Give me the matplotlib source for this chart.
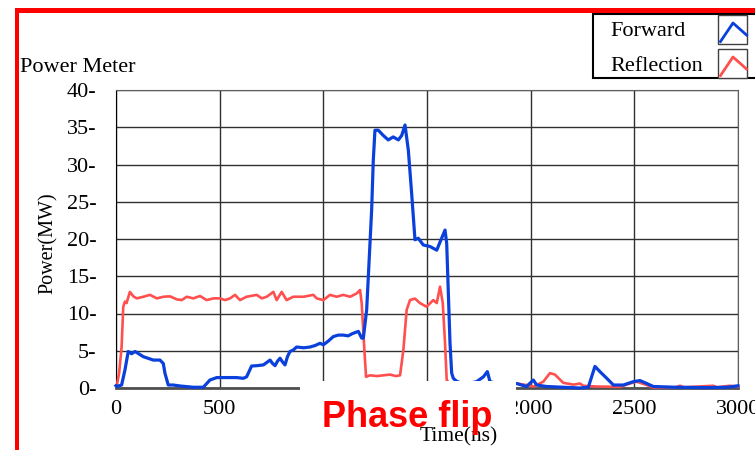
import matplotlib
matplotlib.use("Agg")
from matplotlib import pyplot as plt
from matplotlib.patches import Rectangle
from matplotlib.lines import Line2D

plt.rcParams['font.family'] = ['Liberation Serif', 'DejaVu Serif']

W, H = 755, 450

series_names = ['Forward', 'Reflection']

# forward power (ns, MW)
t_fwd = [0, 3, 27, 43, 59, 75, 92, 132, 180, 212, 228, 236, 252, 276, 309, 373,
         421, 453, 486, 530, 582, 614, 630, 654, 680, 711, 743, 755, 767, 779,
         791, 803, 815, 827, 839, 855, 871, 905, 936, 960, 984, 1000, 1024, 1048,
         1072, 1096, 1120, 1140, 1169, 1185, 1193, 1209, 1225,
         1233, 1241, 1249, 1265, 1289, 1313, 1337, 1362, 1378, 1394, 1410, 1426,
         1442, 1458, 1482, 1514, 1547, 1563, 1587, 1595, 1603, 1611, 1619, 1627,
         1643, 1680, 1739, 1772, 1791, 1804, 1850, 1932, 1980, 2013, 2029, 2077,
         2238, 2278, 2310, 2334, 2367, 2399, 2447, 2495, 2527, 2560, 2592, 2700,
         2850, 2950, 3000]
p_fwd = [0.3, 0.2, 0.4, 2.4, 4.9, 4.6, 4.9, 4.2, 3.75, 3.75, 3.3, 2.0, 0.4, 0.4,
         0.27, 0.1, 0.1, 1.07, 1.4, 1.4, 1.4, 1.3, 1.5, 2.95, 3.0, 3.1, 3.75,
         3.3, 3.0, 3.6, 4.0, 3.5, 3.1, 4.2, 4.9, 5.1, 5.5, 5.4, 5.5, 5.7, 6.0,
         5.8, 6.3, 6.9, 7.1, 7.1, 7.0, 7.3, 7.6, 6.7, 6.7, 10.5, 19.4,
         23.9, 30.6, 34.6, 34.6, 33.9, 33.3, 33.7, 33.3, 33.9, 35.3, 31.9, 26.1,
         19.9, 20.1, 19.2, 19.0, 18.5, 19.6, 21.2, 19.4, 12.7, 6.0, 2.0, 1.3, 0.9,
         0.5, 0.85, 1.5, 2.2, 0.85, 0.5, 0.6, 0.2, 1.07, 0.4, 0.2, 0.0, 0.1, 2.9,
         2.2, 1.3, 0.4, 0.4, 0.85, 1.0, 0.6, 0.2, 0.1, 0.05, 0.1, 0.3]

# reflected power (ns, MW)
t_ref = [0, 3, 15, 27, 35, 43, 51, 67, 84, 100, 132, 164, 197, 229, 261, 293,
         317, 341, 373, 405, 437, 470, 502, 526, 550, 574, 598, 630, 679, 703,
         727, 759, 775, 799, 823, 855, 904, 952, 968, 1000, 1032, 1064, 1096,
         1129, 1161, 1177, 1185, 1196, 1206, 1225, 1260, 1289, 1322, 1350, 1370,
         1386, 1402, 1418, 1442, 1466, 1498, 1530, 1547, 1563, 1576, 1587, 1595,
         1610, 1700, 1800, 1932, 1980, 2013, 2061, 2093, 2117, 2157, 2206, 2238,
         2254, 2318, 2431, 2479, 2511, 2560, 2592, 2700, 2720, 2740, 2880, 2900,
         2960, 3000]
p_ref = [0.3, 0.2, 2.0, 5.5, 10.9, 11.6, 11.4, 12.9, 12.3, 12.03, 12.25, 12.5,
         12.03, 12.25, 12.3, 11.9, 11.8, 12.25, 12.03, 12.35, 11.8, 12.03, 12.03,
         11.8, 12.03, 12.5, 11.8, 12.25, 12.5, 12.03, 12.25, 12.9, 11.8, 12.9,
         11.8, 12.25, 12.25, 12.5, 12.03, 11.8, 12.5, 12.25, 12.5, 12.25, 12.7,
         13.15, 11.4, 6.0, 1.5, 1.7, 1.6, 1.7, 1.8, 1.6, 1.7, 5.1, 10.5, 11.8,
         12.0, 11.4, 10.9, 11.8, 11.4, 13.6, 11.4, 6.0, 1.1, 0.5, 0.4, 0.5, 0.6,
         0.4, 0.2, 0.85, 2.0, 1.8, 0.7, 0.45, 0.6, 0.3, 0.2, 0.15, 0.6, 0.85, 0.4,
         0.05, 0.1, 0.3, 0.1, 0.3, 0.1, 0.3, 0.2]

x_ticks = [0, 500, 1000, 1500, 2000, 2500, 3000]
# 1000 and 1500 sit under the white patch, so they are left blank
x_labels = ['0', '500', '', '', '2000', '2500', '3000']
y_ticks = [0, 5, 10, 15, 20, 25, 30, 35, 40]

BLUE = '#0a40dc'
RED = '#ff4f4f'


def fx(px):
    return px / W


def fy(py):
    return 1 - py / H


fig = plt.figure(figsize=(W / 100, H / 100), dpi=100)
ax = fig.add_axes([fx(116), fy(388), fx(738) - fx(116), fy(90) - fy(388)])

ax.plot(t_ref, p_ref, color=RED, lw=1.9, clip_on=False, zorder=3)
ax.plot(t_fwd, p_fwd, color=BLUE, lw=2.3, clip_on=False, zorder=4)

ax.set_xlim(0, 3000)
ax.set_ylim(0, 40)
ax.set_xticks(x_ticks)
ax.set_xticklabels(x_labels, fontsize=16)
ax.set_yticks(y_ticks)
ax.set_yticklabels([f"{v}-" for v in y_ticks], fontsize=16)
ax.tick_params(axis='y', length=0, pad=14)
ax.tick_params(axis='x', length=0, pad=9)
ax.grid(True, color='#303030', lw=1.0)
ax.set_axisbelow(True)
for side in ['top', 'right']:
    ax.spines[side].set_color('#606060')
ax.spines['left'].set_color('black')
ax.spines['bottom'].set_color('#505050')
ax.spines['bottom'].set_linewidth(2)

# titles
fig.text(fx(20), fy(67), 'Power Meter', fontsize=16, va='center', ha='left')
fig.text(fx(48), fy(243), 'Power(MW)', fontsize=14.5, rotation=90,
         va='center', ha='center')

# white patch hiding part of the axis, then the annotations on top
fig.add_artist(Rectangle((fx(300), 0), fx(516) - fx(300), fy(381),
                         transform=fig.transFigure, facecolor='white',
                         edgecolor='none', zorder=5))
fig.text(fx(459), fy(441.5), 'Time(ns)', fontsize=15.5, ha='center',
         va='baseline', zorder=6)
fig.text(fx(322), fy(427), 'Phase flip', fontsize=26, fontweight='bold',
         family=['Liberation Sans', 'DejaVu Sans'], color='#ff0000',
         ha='left', va='baseline', zorder=7)

# red frame
fig.add_artist(Rectangle((fx(15), 0), fx(19) - fx(15), fy(8),
                         transform=fig.transFigure, facecolor='#ff0000',
                         edgecolor='none', zorder=8))
fig.add_artist(Rectangle((fx(15), fy(13)), 1 - fx(15), fy(8) - fy(13),
                         transform=fig.transFigure, facecolor='#ff0000',
                         edgecolor='none', zorder=8))

# legend
fig.add_artist(Rectangle((fx(593), fy(78)), fx(770) - fx(593), fy(14) - fy(78),
                         transform=fig.transFigure, facecolor='white',
                         edgecolor='black', lw=1.5, zorder=9))
for i, (name, col) in enumerate(zip(series_names, [BLUE, RED])):
    dy = i * 34
    fig.text(fx(610), fy(36.5 + dy), name, fontsize=16, ha='left',
             va='baseline', zorder=10)
    fig.add_artist(Rectangle((fx(718), fy(44 + dy)), fx(747) - fx(718),
                             fy(15) - fy(44), transform=fig.transFigure,
                             facecolor='white', edgecolor='#404040', lw=1,
                             zorder=10))
    fig.add_artist(Line2D([fx(720.5), fx(733), fx(746.5)],
                          [fy(41.5 + dy), fy(23 + dy), fy(35 + dy)],
                          transform=fig.transFigure, color=col, lw=2,
                          zorder=11))

fig.savefig('out.png', dpi=100)
plt.close(fig)
